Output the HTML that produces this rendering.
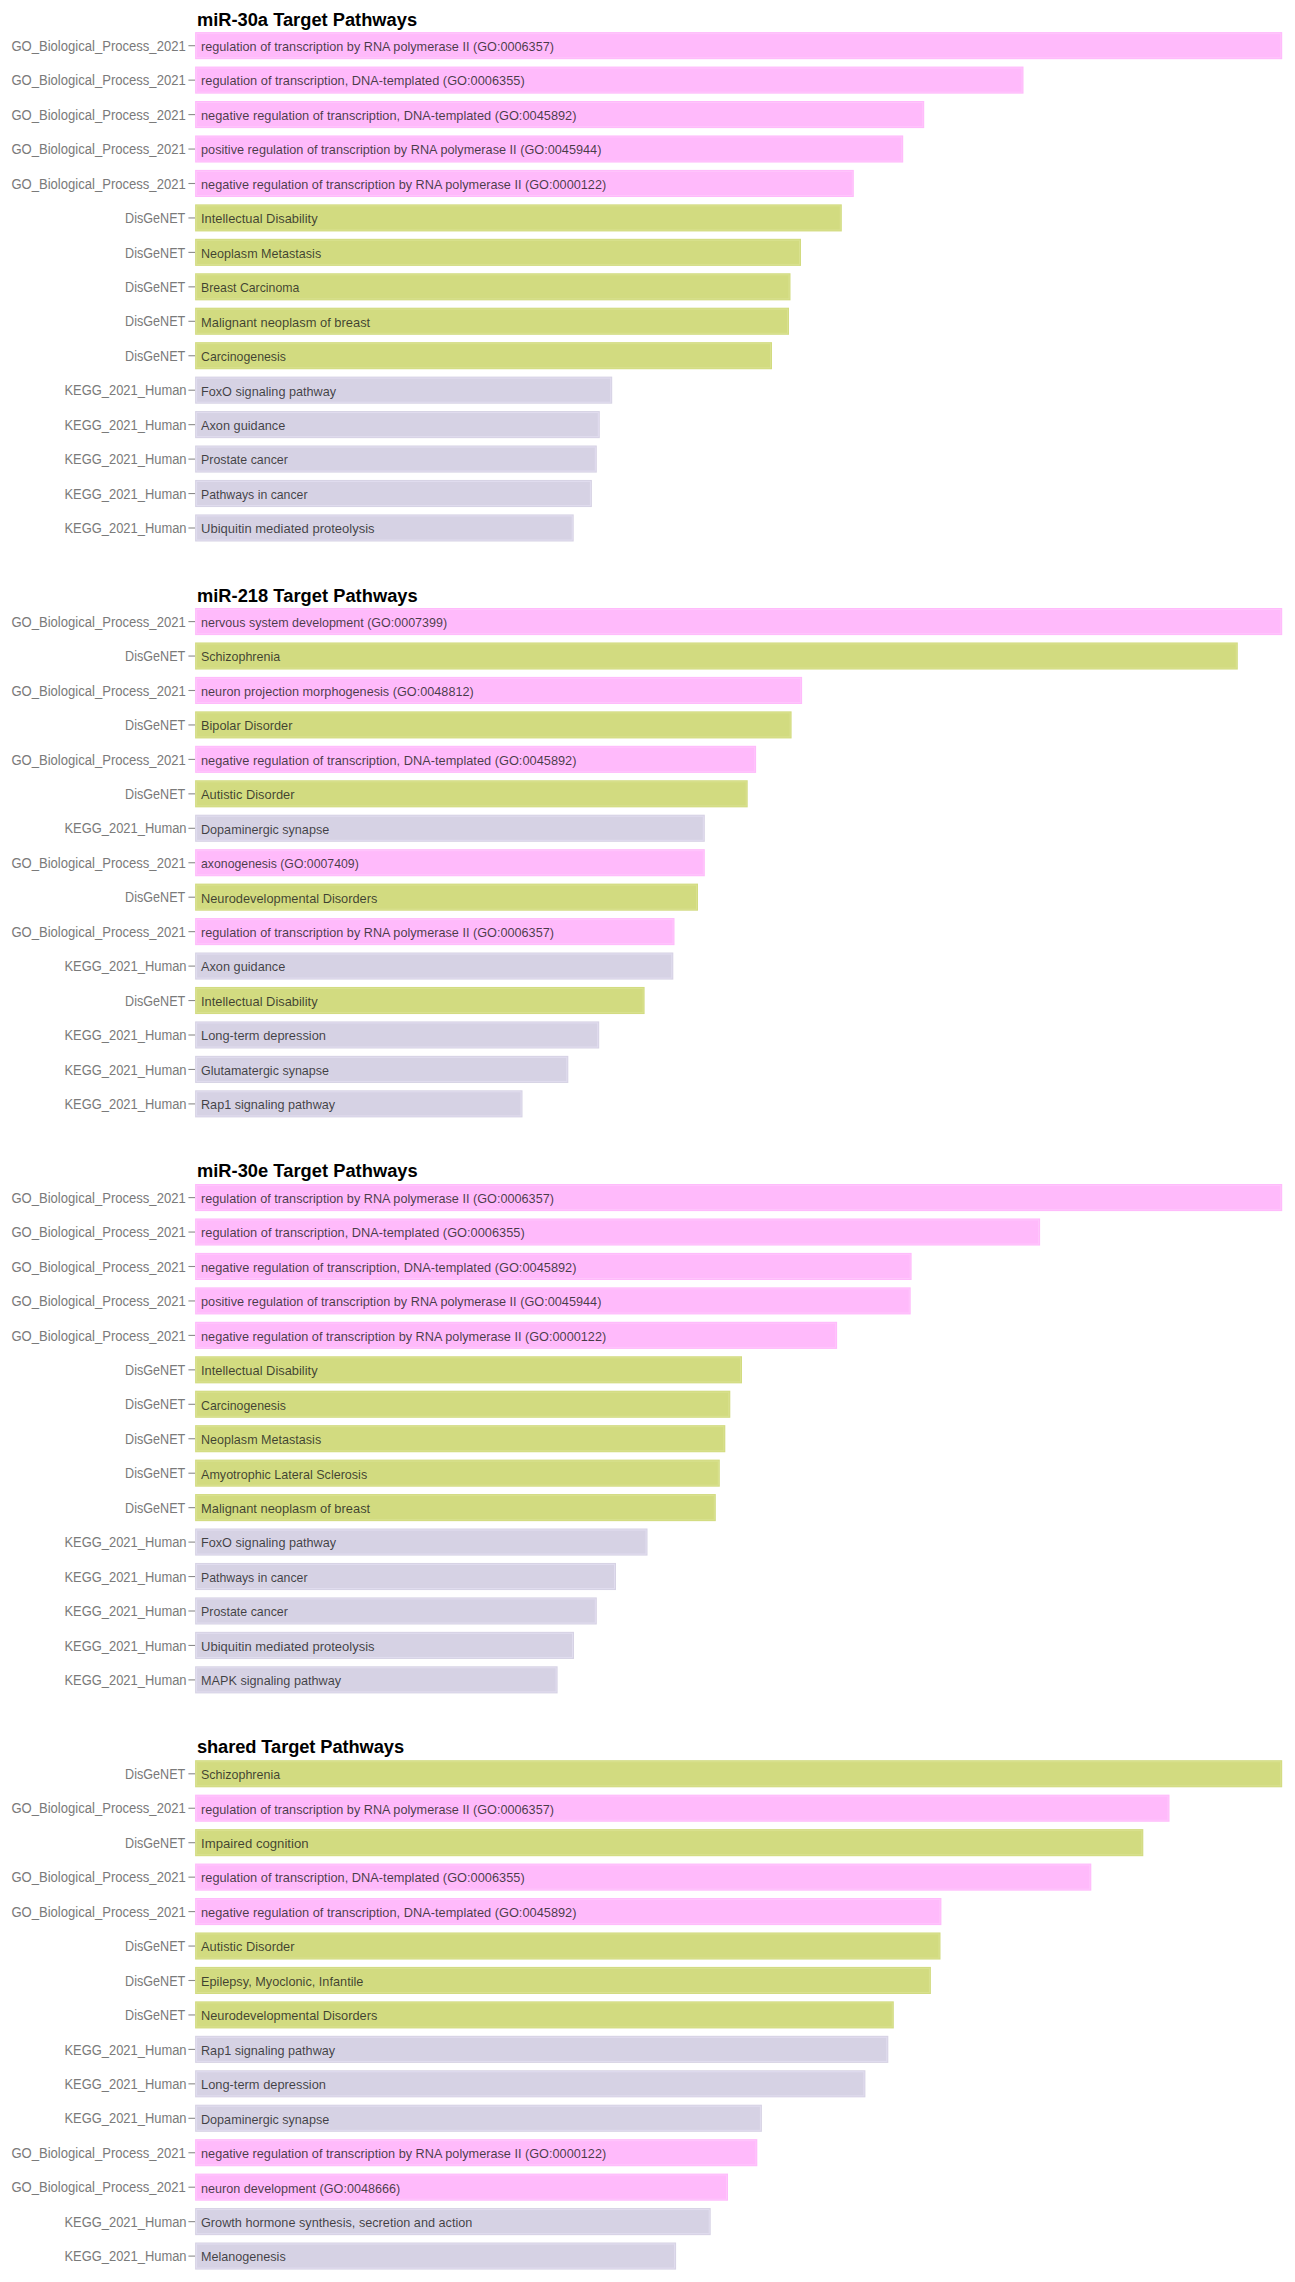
<!DOCTYPE html>
<html lang="en"><head><meta charset="utf-8"><title>Target Pathways</title>
<style>
html,body{margin:0;padding:0;background:#fff}
svg{display:block;font-family:"Liberation Sans",sans-serif}
.t{font-weight:bold;font-size:18.3px;fill:#000}
.y{font-size:14px;fill:#7a7a7a}
.x{font-size:12.72px;fill:#1e1e1e;fill-opacity:.82}
.g{fill:#ffbafb}.d{fill:#d2db80}.k{fill:#d6d2e4}
.gi{stroke:#ffc6fc}.di{stroke:#d9e18f}.ki{stroke:#e1ddef}
.gi,.di,.ki{fill:none;stroke-width:1}
.tk{stroke:#8a8a8a;stroke-width:1.1}
</style></head>
<body>
<svg width="1295" height="2282" viewBox="0 0 1295 2282">
<rect x="0" y="0" width="1295" height="2282" fill="#fff"/>
<text class="t" x="196.9" y="25.8" textLength="220.2" lengthAdjust="spacing">miR-30a Target Pathways</text>
<g>
<text class="y" x="11.4" y="50.80" textLength="174.3" lengthAdjust="spacingAndGlyphs">GO_Biological_Process_2021</text>
<line class="tk" x1="188.4" x2="195.1" y1="45.70" y2="45.70"/>
<rect class="g" x="195.1" y="32.10" width="1087.1" height="27.1"/>
<rect class="gi" x="196.6" y="33.60" width="1084.1" height="24.1"/>
<text class="x" x="201.0" y="51.00" textLength="353.0" lengthAdjust="spacingAndGlyphs">regulation of transcription by RNA polymerase II (GO:0006357)</text>
</g>
<g>
<text class="y" x="11.4" y="85.25" textLength="174.3" lengthAdjust="spacingAndGlyphs">GO_Biological_Process_2021</text>
<line class="tk" x1="188.4" x2="195.1" y1="80.15" y2="80.15"/>
<rect class="g" x="195.1" y="66.55" width="828.4" height="27.1"/>
<rect class="gi" x="196.6" y="68.05" width="825.4" height="24.1"/>
<text class="x" x="201.0" y="85.45" textLength="323.7" lengthAdjust="spacingAndGlyphs">regulation of transcription, DNA-templated (GO:0006355)</text>
</g>
<g>
<text class="y" x="11.4" y="119.70" textLength="174.3" lengthAdjust="spacingAndGlyphs">GO_Biological_Process_2021</text>
<line class="tk" x1="188.4" x2="195.1" y1="114.60" y2="114.60"/>
<rect class="g" x="195.1" y="101.00" width="729.1" height="27.1"/>
<rect class="gi" x="196.6" y="102.50" width="726.1" height="24.1"/>
<text class="x" x="201.0" y="119.90" textLength="375.5" lengthAdjust="spacingAndGlyphs">negative regulation of transcription, DNA-templated (GO:0045892)</text>
</g>
<g>
<text class="y" x="11.4" y="154.15" textLength="174.3" lengthAdjust="spacingAndGlyphs">GO_Biological_Process_2021</text>
<line class="tk" x1="188.4" x2="195.1" y1="149.05" y2="149.05"/>
<rect class="g" x="195.1" y="135.45" width="708.1" height="27.1"/>
<rect class="gi" x="196.6" y="136.95" width="705.1" height="24.1"/>
<text class="x" x="201.0" y="154.35" textLength="400.4" lengthAdjust="spacingAndGlyphs">positive regulation of transcription by RNA polymerase II (GO:0045944)</text>
</g>
<g>
<text class="y" x="11.4" y="188.60" textLength="174.3" lengthAdjust="spacingAndGlyphs">GO_Biological_Process_2021</text>
<line class="tk" x1="188.4" x2="195.1" y1="183.50" y2="183.50"/>
<rect class="g" x="195.1" y="169.90" width="658.7" height="27.1"/>
<rect class="gi" x="196.6" y="171.40" width="655.7" height="24.1"/>
<text class="x" x="201.0" y="188.80" textLength="405.2" lengthAdjust="spacingAndGlyphs">negative regulation of transcription by RNA polymerase II (GO:0000122)</text>
</g>
<g>
<text class="y" x="125.1" y="223.05" textLength="60.2" lengthAdjust="spacingAndGlyphs">DisGeNET</text>
<line class="tk" x1="188.4" x2="195.1" y1="217.95" y2="217.95"/>
<rect class="d" x="195.1" y="204.35" width="646.7" height="27.1"/>
<rect class="di" x="196.6" y="205.85" width="643.7" height="24.1"/>
<text class="x" x="201.0" y="223.25" textLength="116.6" lengthAdjust="spacingAndGlyphs">Intellectual Disability</text>
</g>
<g>
<text class="y" x="125.1" y="257.50" textLength="60.2" lengthAdjust="spacingAndGlyphs">DisGeNET</text>
<line class="tk" x1="188.4" x2="195.1" y1="252.40" y2="252.40"/>
<rect class="d" x="195.1" y="238.80" width="605.9" height="27.1"/>
<rect class="di" x="196.6" y="240.30" width="602.9" height="24.1"/>
<text class="x" x="201.0" y="257.70" textLength="120.2" lengthAdjust="spacingAndGlyphs">Neoplasm Metastasis</text>
</g>
<g>
<text class="y" x="125.1" y="291.95" textLength="60.2" lengthAdjust="spacingAndGlyphs">DisGeNET</text>
<line class="tk" x1="188.4" x2="195.1" y1="286.85" y2="286.85"/>
<rect class="d" x="195.1" y="273.25" width="595.4" height="27.1"/>
<rect class="di" x="196.6" y="274.75" width="592.4" height="24.1"/>
<text class="x" x="201.0" y="292.15" textLength="98.3" lengthAdjust="spacingAndGlyphs">Breast Carcinoma</text>
</g>
<g>
<text class="y" x="125.1" y="326.40" textLength="60.2" lengthAdjust="spacingAndGlyphs">DisGeNET</text>
<line class="tk" x1="188.4" x2="195.1" y1="321.30" y2="321.30"/>
<rect class="d" x="195.1" y="307.70" width="593.9" height="27.1"/>
<rect class="di" x="196.6" y="309.20" width="590.9" height="24.1"/>
<text class="x" x="201.0" y="326.60" textLength="169.2" lengthAdjust="spacingAndGlyphs">Malignant neoplasm of breast</text>
</g>
<g>
<text class="y" x="125.1" y="360.85" textLength="60.2" lengthAdjust="spacingAndGlyphs">DisGeNET</text>
<line class="tk" x1="188.4" x2="195.1" y1="355.75" y2="355.75"/>
<rect class="d" x="195.1" y="342.15" width="576.9" height="27.1"/>
<rect class="di" x="196.6" y="343.65" width="573.9" height="24.1"/>
<text class="x" x="201.0" y="361.05" textLength="84.9" lengthAdjust="spacingAndGlyphs">Carcinogenesis</text>
</g>
<g>
<text class="y" x="64.5" y="395.30" textLength="122.0" lengthAdjust="spacingAndGlyphs">KEGG_2021_Human</text>
<line class="tk" x1="188.4" x2="195.1" y1="390.20" y2="390.20"/>
<rect class="k" x="195.1" y="376.60" width="417.1" height="27.1"/>
<rect class="ki" x="196.6" y="378.10" width="414.1" height="24.1"/>
<text class="x" x="201.0" y="395.50" textLength="135.1" lengthAdjust="spacingAndGlyphs">FoxO signaling pathway</text>
</g>
<g>
<text class="y" x="64.5" y="429.75" textLength="122.0" lengthAdjust="spacingAndGlyphs">KEGG_2021_Human</text>
<line class="tk" x1="188.4" x2="195.1" y1="424.65" y2="424.65"/>
<rect class="k" x="195.1" y="411.05" width="404.7" height="27.1"/>
<rect class="ki" x="196.6" y="412.55" width="401.7" height="24.1"/>
<text class="x" x="201.0" y="429.95" textLength="84.3" lengthAdjust="spacingAndGlyphs">Axon guidance</text>
</g>
<g>
<text class="y" x="64.5" y="464.20" textLength="122.0" lengthAdjust="spacingAndGlyphs">KEGG_2021_Human</text>
<line class="tk" x1="188.4" x2="195.1" y1="459.10" y2="459.10"/>
<rect class="k" x="195.1" y="445.50" width="401.7" height="27.1"/>
<rect class="ki" x="196.6" y="447.00" width="398.7" height="24.1"/>
<text class="x" x="201.0" y="464.40" textLength="86.9" lengthAdjust="spacingAndGlyphs">Prostate cancer</text>
</g>
<g>
<text class="y" x="64.5" y="498.65" textLength="122.0" lengthAdjust="spacingAndGlyphs">KEGG_2021_Human</text>
<line class="tk" x1="188.4" x2="195.1" y1="493.55" y2="493.55"/>
<rect class="k" x="195.1" y="479.95" width="396.8" height="27.1"/>
<rect class="ki" x="196.6" y="481.45" width="393.8" height="24.1"/>
<text class="x" x="201.0" y="498.85" textLength="106.5" lengthAdjust="spacingAndGlyphs">Pathways in cancer</text>
</g>
<g>
<text class="y" x="64.5" y="533.10" textLength="122.0" lengthAdjust="spacingAndGlyphs">KEGG_2021_Human</text>
<line class="tk" x1="188.4" x2="195.1" y1="528.00" y2="528.00"/>
<rect class="k" x="195.1" y="514.40" width="378.6" height="27.1"/>
<rect class="ki" x="196.6" y="515.90" width="375.6" height="24.1"/>
<text class="x" x="201.0" y="533.30" textLength="173.6" lengthAdjust="spacingAndGlyphs">Ubiquitin mediated proteolysis</text>
</g>
<text class="t" x="196.9" y="601.5" textLength="220.8" lengthAdjust="spacing">miR-218 Target Pathways</text>
<g>
<text class="y" x="11.4" y="626.70" textLength="174.3" lengthAdjust="spacingAndGlyphs">GO_Biological_Process_2021</text>
<line class="tk" x1="188.4" x2="195.1" y1="621.60" y2="621.60"/>
<rect class="g" x="195.1" y="608.00" width="1087.1" height="27.1"/>
<rect class="gi" x="196.6" y="609.50" width="1084.1" height="24.1"/>
<text class="x" x="201.0" y="626.90" textLength="246.1" lengthAdjust="spacingAndGlyphs">nervous system development (GO:0007399)</text>
</g>
<g>
<text class="y" x="125.1" y="661.15" textLength="60.2" lengthAdjust="spacingAndGlyphs">DisGeNET</text>
<line class="tk" x1="188.4" x2="195.1" y1="656.05" y2="656.05"/>
<rect class="d" x="195.1" y="642.45" width="1042.7" height="27.1"/>
<rect class="di" x="196.6" y="643.95" width="1039.7" height="24.1"/>
<text class="x" x="201.0" y="661.35" textLength="79.1" lengthAdjust="spacingAndGlyphs">Schizophrenia</text>
</g>
<g>
<text class="y" x="11.4" y="695.60" textLength="174.3" lengthAdjust="spacingAndGlyphs">GO_Biological_Process_2021</text>
<line class="tk" x1="188.4" x2="195.1" y1="690.50" y2="690.50"/>
<rect class="g" x="195.1" y="676.90" width="607.0" height="27.1"/>
<rect class="gi" x="196.6" y="678.40" width="604.0" height="24.1"/>
<text class="x" x="201.0" y="695.80" textLength="272.8" lengthAdjust="spacingAndGlyphs">neuron projection morphogenesis (GO:0048812)</text>
</g>
<g>
<text class="y" x="125.1" y="730.05" textLength="60.2" lengthAdjust="spacingAndGlyphs">DisGeNET</text>
<line class="tk" x1="188.4" x2="195.1" y1="724.95" y2="724.95"/>
<rect class="d" x="195.1" y="711.35" width="596.5" height="27.1"/>
<rect class="di" x="196.6" y="712.85" width="593.5" height="24.1"/>
<text class="x" x="201.0" y="730.25" textLength="91.4" lengthAdjust="spacingAndGlyphs">Bipolar Disorder</text>
</g>
<g>
<text class="y" x="11.4" y="764.50" textLength="174.3" lengthAdjust="spacingAndGlyphs">GO_Biological_Process_2021</text>
<line class="tk" x1="188.4" x2="195.1" y1="759.40" y2="759.40"/>
<rect class="g" x="195.1" y="745.80" width="561.0" height="27.1"/>
<rect class="gi" x="196.6" y="747.30" width="558.0" height="24.1"/>
<text class="x" x="201.0" y="764.70" textLength="375.5" lengthAdjust="spacingAndGlyphs">negative regulation of transcription, DNA-templated (GO:0045892)</text>
</g>
<g>
<text class="y" x="125.1" y="798.95" textLength="60.2" lengthAdjust="spacingAndGlyphs">DisGeNET</text>
<line class="tk" x1="188.4" x2="195.1" y1="793.85" y2="793.85"/>
<rect class="d" x="195.1" y="780.25" width="552.6" height="27.1"/>
<rect class="di" x="196.6" y="781.75" width="549.6" height="24.1"/>
<text class="x" x="201.0" y="799.15" textLength="93.5" lengthAdjust="spacingAndGlyphs">Autistic Disorder</text>
</g>
<g>
<text class="y" x="64.5" y="833.40" textLength="122.0" lengthAdjust="spacingAndGlyphs">KEGG_2021_Human</text>
<line class="tk" x1="188.4" x2="195.1" y1="828.30" y2="828.30"/>
<rect class="k" x="195.1" y="814.70" width="509.7" height="27.1"/>
<rect class="ki" x="196.6" y="816.20" width="506.7" height="24.1"/>
<text class="x" x="201.0" y="833.60" textLength="128.2" lengthAdjust="spacingAndGlyphs">Dopaminergic synapse</text>
</g>
<g>
<text class="y" x="11.4" y="867.85" textLength="174.3" lengthAdjust="spacingAndGlyphs">GO_Biological_Process_2021</text>
<line class="tk" x1="188.4" x2="195.1" y1="862.75" y2="862.75"/>
<rect class="g" x="195.1" y="849.15" width="509.7" height="27.1"/>
<rect class="gi" x="196.6" y="850.65" width="506.7" height="24.1"/>
<text class="x" x="201.0" y="868.05" textLength="157.8" lengthAdjust="spacingAndGlyphs">axonogenesis (GO:0007409)</text>
</g>
<g>
<text class="y" x="125.1" y="902.30" textLength="60.2" lengthAdjust="spacingAndGlyphs">DisGeNET</text>
<line class="tk" x1="188.4" x2="195.1" y1="897.20" y2="897.20"/>
<rect class="d" x="195.1" y="883.60" width="502.9" height="27.1"/>
<rect class="di" x="196.6" y="885.10" width="499.9" height="24.1"/>
<text class="x" x="201.0" y="902.50" textLength="176.4" lengthAdjust="spacingAndGlyphs">Neurodevelopmental Disorders</text>
</g>
<g>
<text class="y" x="11.4" y="936.75" textLength="174.3" lengthAdjust="spacingAndGlyphs">GO_Biological_Process_2021</text>
<line class="tk" x1="188.4" x2="195.1" y1="931.65" y2="931.65"/>
<rect class="g" x="195.1" y="918.05" width="479.4" height="27.1"/>
<rect class="gi" x="196.6" y="919.55" width="476.4" height="24.1"/>
<text class="x" x="201.0" y="936.95" textLength="353.0" lengthAdjust="spacingAndGlyphs">regulation of transcription by RNA polymerase II (GO:0006357)</text>
</g>
<g>
<text class="y" x="64.5" y="971.20" textLength="122.0" lengthAdjust="spacingAndGlyphs">KEGG_2021_Human</text>
<line class="tk" x1="188.4" x2="195.1" y1="966.10" y2="966.10"/>
<rect class="k" x="195.1" y="952.50" width="478.2" height="27.1"/>
<rect class="ki" x="196.6" y="954.00" width="475.2" height="24.1"/>
<text class="x" x="201.0" y="971.40" textLength="84.3" lengthAdjust="spacingAndGlyphs">Axon guidance</text>
</g>
<g>
<text class="y" x="125.1" y="1005.65" textLength="60.2" lengthAdjust="spacingAndGlyphs">DisGeNET</text>
<line class="tk" x1="188.4" x2="195.1" y1="1000.55" y2="1000.55"/>
<rect class="d" x="195.1" y="986.95" width="449.5" height="27.1"/>
<rect class="di" x="196.6" y="988.45" width="446.5" height="24.1"/>
<text class="x" x="201.0" y="1005.85" textLength="116.6" lengthAdjust="spacingAndGlyphs">Intellectual Disability</text>
</g>
<g>
<text class="y" x="64.5" y="1040.10" textLength="122.0" lengthAdjust="spacingAndGlyphs">KEGG_2021_Human</text>
<line class="tk" x1="188.4" x2="195.1" y1="1035.00" y2="1035.00"/>
<rect class="k" x="195.1" y="1021.40" width="404.1" height="27.1"/>
<rect class="ki" x="196.6" y="1022.90" width="401.1" height="24.1"/>
<text class="x" x="201.0" y="1040.30" textLength="125.0" lengthAdjust="spacingAndGlyphs">Long-term depression</text>
</g>
<g>
<text class="y" x="64.5" y="1074.55" textLength="122.0" lengthAdjust="spacingAndGlyphs">KEGG_2021_Human</text>
<line class="tk" x1="188.4" x2="195.1" y1="1069.45" y2="1069.45"/>
<rect class="k" x="195.1" y="1055.85" width="373.2" height="27.1"/>
<rect class="ki" x="196.6" y="1057.35" width="370.2" height="24.1"/>
<text class="x" x="201.0" y="1074.75" textLength="128.0" lengthAdjust="spacingAndGlyphs">Glutamatergic synapse</text>
</g>
<g>
<text class="y" x="64.5" y="1109.00" textLength="122.0" lengthAdjust="spacingAndGlyphs">KEGG_2021_Human</text>
<line class="tk" x1="188.4" x2="195.1" y1="1103.90" y2="1103.90"/>
<rect class="k" x="195.1" y="1090.30" width="327.4" height="27.1"/>
<rect class="ki" x="196.6" y="1091.80" width="324.4" height="24.1"/>
<text class="x" x="201.0" y="1109.20" textLength="134.1" lengthAdjust="spacingAndGlyphs">Rap1 signaling pathway</text>
</g>
<text class="t" x="196.9" y="1177.4" textLength="220.8" lengthAdjust="spacing">miR-30e Target Pathways</text>
<g>
<text class="y" x="11.4" y="1202.70" textLength="174.3" lengthAdjust="spacingAndGlyphs">GO_Biological_Process_2021</text>
<line class="tk" x1="188.4" x2="195.1" y1="1197.60" y2="1197.60"/>
<rect class="g" x="195.1" y="1184.00" width="1087.1" height="27.1"/>
<rect class="gi" x="196.6" y="1185.50" width="1084.1" height="24.1"/>
<text class="x" x="201.0" y="1202.90" textLength="353.0" lengthAdjust="spacingAndGlyphs">regulation of transcription by RNA polymerase II (GO:0006357)</text>
</g>
<g>
<text class="y" x="11.4" y="1237.15" textLength="174.3" lengthAdjust="spacingAndGlyphs">GO_Biological_Process_2021</text>
<line class="tk" x1="188.4" x2="195.1" y1="1232.05" y2="1232.05"/>
<rect class="g" x="195.1" y="1218.45" width="845.0" height="27.1"/>
<rect class="gi" x="196.6" y="1219.95" width="842.0" height="24.1"/>
<text class="x" x="201.0" y="1237.35" textLength="323.7" lengthAdjust="spacingAndGlyphs">regulation of transcription, DNA-templated (GO:0006355)</text>
</g>
<g>
<text class="y" x="11.4" y="1271.60" textLength="174.3" lengthAdjust="spacingAndGlyphs">GO_Biological_Process_2021</text>
<line class="tk" x1="188.4" x2="195.1" y1="1266.50" y2="1266.50"/>
<rect class="g" x="195.1" y="1252.90" width="716.5" height="27.1"/>
<rect class="gi" x="196.6" y="1254.40" width="713.5" height="24.1"/>
<text class="x" x="201.0" y="1271.80" textLength="375.5" lengthAdjust="spacingAndGlyphs">negative regulation of transcription, DNA-templated (GO:0045892)</text>
</g>
<g>
<text class="y" x="11.4" y="1306.05" textLength="174.3" lengthAdjust="spacingAndGlyphs">GO_Biological_Process_2021</text>
<line class="tk" x1="188.4" x2="195.1" y1="1300.95" y2="1300.95"/>
<rect class="g" x="195.1" y="1287.35" width="715.6" height="27.1"/>
<rect class="gi" x="196.6" y="1288.85" width="712.6" height="24.1"/>
<text class="x" x="201.0" y="1306.25" textLength="400.4" lengthAdjust="spacingAndGlyphs">positive regulation of transcription by RNA polymerase II (GO:0045944)</text>
</g>
<g>
<text class="y" x="11.4" y="1340.50" textLength="174.3" lengthAdjust="spacingAndGlyphs">GO_Biological_Process_2021</text>
<line class="tk" x1="188.4" x2="195.1" y1="1335.40" y2="1335.40"/>
<rect class="g" x="195.1" y="1321.80" width="642.0" height="27.1"/>
<rect class="gi" x="196.6" y="1323.30" width="639.0" height="24.1"/>
<text class="x" x="201.0" y="1340.70" textLength="405.2" lengthAdjust="spacingAndGlyphs">negative regulation of transcription by RNA polymerase II (GO:0000122)</text>
</g>
<g>
<text class="y" x="125.1" y="1374.95" textLength="60.2" lengthAdjust="spacingAndGlyphs">DisGeNET</text>
<line class="tk" x1="188.4" x2="195.1" y1="1369.85" y2="1369.85"/>
<rect class="d" x="195.1" y="1356.25" width="546.9" height="27.1"/>
<rect class="di" x="196.6" y="1357.75" width="543.9" height="24.1"/>
<text class="x" x="201.0" y="1375.15" textLength="116.6" lengthAdjust="spacingAndGlyphs">Intellectual Disability</text>
</g>
<g>
<text class="y" x="125.1" y="1409.40" textLength="60.2" lengthAdjust="spacingAndGlyphs">DisGeNET</text>
<line class="tk" x1="188.4" x2="195.1" y1="1404.30" y2="1404.30"/>
<rect class="d" x="195.1" y="1390.70" width="535.2" height="27.1"/>
<rect class="di" x="196.6" y="1392.20" width="532.2" height="24.1"/>
<text class="x" x="201.0" y="1409.60" textLength="84.9" lengthAdjust="spacingAndGlyphs">Carcinogenesis</text>
</g>
<g>
<text class="y" x="125.1" y="1443.85" textLength="60.2" lengthAdjust="spacingAndGlyphs">DisGeNET</text>
<line class="tk" x1="188.4" x2="195.1" y1="1438.75" y2="1438.75"/>
<rect class="d" x="195.1" y="1425.15" width="530.2" height="27.1"/>
<rect class="di" x="196.6" y="1426.65" width="527.2" height="24.1"/>
<text class="x" x="201.0" y="1444.05" textLength="120.2" lengthAdjust="spacingAndGlyphs">Neoplasm Metastasis</text>
</g>
<g>
<text class="y" x="125.1" y="1478.30" textLength="60.2" lengthAdjust="spacingAndGlyphs">DisGeNET</text>
<line class="tk" x1="188.4" x2="195.1" y1="1473.20" y2="1473.20"/>
<rect class="d" x="195.1" y="1459.60" width="524.7" height="27.1"/>
<rect class="di" x="196.6" y="1461.10" width="521.7" height="24.1"/>
<text class="x" x="201.0" y="1478.50" textLength="166.2" lengthAdjust="spacingAndGlyphs">Amyotrophic Lateral Sclerosis</text>
</g>
<g>
<text class="y" x="125.1" y="1512.75" textLength="60.2" lengthAdjust="spacingAndGlyphs">DisGeNET</text>
<line class="tk" x1="188.4" x2="195.1" y1="1507.65" y2="1507.65"/>
<rect class="d" x="195.1" y="1494.05" width="520.7" height="27.1"/>
<rect class="di" x="196.6" y="1495.55" width="517.7" height="24.1"/>
<text class="x" x="201.0" y="1512.95" textLength="169.2" lengthAdjust="spacingAndGlyphs">Malignant neoplasm of breast</text>
</g>
<g>
<text class="y" x="64.5" y="1547.20" textLength="122.0" lengthAdjust="spacingAndGlyphs">KEGG_2021_Human</text>
<line class="tk" x1="188.4" x2="195.1" y1="1542.10" y2="1542.10"/>
<rect class="k" x="195.1" y="1528.50" width="452.4" height="27.1"/>
<rect class="ki" x="196.6" y="1530.00" width="449.4" height="24.1"/>
<text class="x" x="201.0" y="1547.40" textLength="135.1" lengthAdjust="spacingAndGlyphs">FoxO signaling pathway</text>
</g>
<g>
<text class="y" x="64.5" y="1581.65" textLength="122.0" lengthAdjust="spacingAndGlyphs">KEGG_2021_Human</text>
<line class="tk" x1="188.4" x2="195.1" y1="1576.55" y2="1576.55"/>
<rect class="k" x="195.1" y="1562.95" width="420.9" height="27.1"/>
<rect class="ki" x="196.6" y="1564.45" width="417.9" height="24.1"/>
<text class="x" x="201.0" y="1581.85" textLength="106.5" lengthAdjust="spacingAndGlyphs">Pathways in cancer</text>
</g>
<g>
<text class="y" x="64.5" y="1616.10" textLength="122.0" lengthAdjust="spacingAndGlyphs">KEGG_2021_Human</text>
<line class="tk" x1="188.4" x2="195.1" y1="1611.00" y2="1611.00"/>
<rect class="k" x="195.1" y="1597.40" width="401.7" height="27.1"/>
<rect class="ki" x="196.6" y="1598.90" width="398.7" height="24.1"/>
<text class="x" x="201.0" y="1616.30" textLength="86.9" lengthAdjust="spacingAndGlyphs">Prostate cancer</text>
</g>
<g>
<text class="y" x="64.5" y="1650.55" textLength="122.0" lengthAdjust="spacingAndGlyphs">KEGG_2021_Human</text>
<line class="tk" x1="188.4" x2="195.1" y1="1645.45" y2="1645.45"/>
<rect class="k" x="195.1" y="1631.85" width="378.9" height="27.1"/>
<rect class="ki" x="196.6" y="1633.35" width="375.9" height="24.1"/>
<text class="x" x="201.0" y="1650.75" textLength="173.6" lengthAdjust="spacingAndGlyphs">Ubiquitin mediated proteolysis</text>
</g>
<g>
<text class="y" x="64.5" y="1685.00" textLength="122.0" lengthAdjust="spacingAndGlyphs">KEGG_2021_Human</text>
<line class="tk" x1="188.4" x2="195.1" y1="1679.90" y2="1679.90"/>
<rect class="k" x="195.1" y="1666.30" width="362.5" height="27.1"/>
<rect class="ki" x="196.6" y="1667.80" width="359.5" height="24.1"/>
<text class="x" x="201.0" y="1685.20" textLength="140.1" lengthAdjust="spacingAndGlyphs">MAPK signaling pathway</text>
</g>
<text class="t" x="196.9" y="1752.9" textLength="207.2" lengthAdjust="spacing">shared Target Pathways</text>
<g>
<text class="y" x="125.1" y="1778.90" textLength="60.2" lengthAdjust="spacingAndGlyphs">DisGeNET</text>
<line class="tk" x1="188.4" x2="195.1" y1="1773.80" y2="1773.80"/>
<rect class="d" x="195.1" y="1760.20" width="1087.1" height="27.1"/>
<rect class="di" x="196.6" y="1761.70" width="1084.1" height="24.1"/>
<text class="x" x="201.0" y="1779.10" textLength="79.1" lengthAdjust="spacingAndGlyphs">Schizophrenia</text>
</g>
<g>
<text class="y" x="11.4" y="1813.35" textLength="174.3" lengthAdjust="spacingAndGlyphs">GO_Biological_Process_2021</text>
<line class="tk" x1="188.4" x2="195.1" y1="1808.25" y2="1808.25"/>
<rect class="g" x="195.1" y="1794.65" width="974.4" height="27.1"/>
<rect class="gi" x="196.6" y="1796.15" width="971.4" height="24.1"/>
<text class="x" x="201.0" y="1813.55" textLength="353.0" lengthAdjust="spacingAndGlyphs">regulation of transcription by RNA polymerase II (GO:0006357)</text>
</g>
<g>
<text class="y" x="125.1" y="1847.80" textLength="60.2" lengthAdjust="spacingAndGlyphs">DisGeNET</text>
<line class="tk" x1="188.4" x2="195.1" y1="1842.70" y2="1842.70"/>
<rect class="d" x="195.1" y="1829.10" width="948.2" height="27.1"/>
<rect class="di" x="196.6" y="1830.60" width="945.2" height="24.1"/>
<text class="x" x="201.0" y="1848.00" textLength="107.6" lengthAdjust="spacingAndGlyphs">Impaired cognition</text>
</g>
<g>
<text class="y" x="11.4" y="1882.25" textLength="174.3" lengthAdjust="spacingAndGlyphs">GO_Biological_Process_2021</text>
<line class="tk" x1="188.4" x2="195.1" y1="1877.15" y2="1877.15"/>
<rect class="g" x="195.1" y="1863.55" width="896.2" height="27.1"/>
<rect class="gi" x="196.6" y="1865.05" width="893.2" height="24.1"/>
<text class="x" x="201.0" y="1882.45" textLength="323.7" lengthAdjust="spacingAndGlyphs">regulation of transcription, DNA-templated (GO:0006355)</text>
</g>
<g>
<text class="y" x="11.4" y="1916.70" textLength="174.3" lengthAdjust="spacingAndGlyphs">GO_Biological_Process_2021</text>
<line class="tk" x1="188.4" x2="195.1" y1="1911.60" y2="1911.60"/>
<rect class="g" x="195.1" y="1898.00" width="746.3" height="27.1"/>
<rect class="gi" x="196.6" y="1899.50" width="743.3" height="24.1"/>
<text class="x" x="201.0" y="1916.90" textLength="375.5" lengthAdjust="spacingAndGlyphs">negative regulation of transcription, DNA-templated (GO:0045892)</text>
</g>
<g>
<text class="y" x="125.1" y="1951.15" textLength="60.2" lengthAdjust="spacingAndGlyphs">DisGeNET</text>
<line class="tk" x1="188.4" x2="195.1" y1="1946.05" y2="1946.05"/>
<rect class="d" x="195.1" y="1932.45" width="745.4" height="27.1"/>
<rect class="di" x="196.6" y="1933.95" width="742.4" height="24.1"/>
<text class="x" x="201.0" y="1951.35" textLength="93.5" lengthAdjust="spacingAndGlyphs">Autistic Disorder</text>
</g>
<g>
<text class="y" x="125.1" y="1985.60" textLength="60.2" lengthAdjust="spacingAndGlyphs">DisGeNET</text>
<line class="tk" x1="188.4" x2="195.1" y1="1980.50" y2="1980.50"/>
<rect class="d" x="195.1" y="1966.90" width="735.8" height="27.1"/>
<rect class="di" x="196.6" y="1968.40" width="732.8" height="24.1"/>
<text class="x" x="201.0" y="1985.80" textLength="162.4" lengthAdjust="spacingAndGlyphs">Epilepsy, Myoclonic, Infantile</text>
</g>
<g>
<text class="y" x="125.1" y="2020.05" textLength="60.2" lengthAdjust="spacingAndGlyphs">DisGeNET</text>
<line class="tk" x1="188.4" x2="195.1" y1="2014.95" y2="2014.95"/>
<rect class="d" x="195.1" y="2001.35" width="698.7" height="27.1"/>
<rect class="di" x="196.6" y="2002.85" width="695.7" height="24.1"/>
<text class="x" x="201.0" y="2020.25" textLength="176.4" lengthAdjust="spacingAndGlyphs">Neurodevelopmental Disorders</text>
</g>
<g>
<text class="y" x="64.5" y="2054.50" textLength="122.0" lengthAdjust="spacingAndGlyphs">KEGG_2021_Human</text>
<line class="tk" x1="188.4" x2="195.1" y1="2049.40" y2="2049.40"/>
<rect class="k" x="195.1" y="2035.80" width="693.2" height="27.1"/>
<rect class="ki" x="196.6" y="2037.30" width="690.2" height="24.1"/>
<text class="x" x="201.0" y="2054.70" textLength="134.1" lengthAdjust="spacingAndGlyphs">Rap1 signaling pathway</text>
</g>
<g>
<text class="y" x="64.5" y="2088.95" textLength="122.0" lengthAdjust="spacingAndGlyphs">KEGG_2021_Human</text>
<line class="tk" x1="188.4" x2="195.1" y1="2083.85" y2="2083.85"/>
<rect class="k" x="195.1" y="2070.25" width="670.3" height="27.1"/>
<rect class="ki" x="196.6" y="2071.75" width="667.3" height="24.1"/>
<text class="x" x="201.0" y="2089.15" textLength="125.0" lengthAdjust="spacingAndGlyphs">Long-term depression</text>
</g>
<g>
<text class="y" x="64.5" y="2123.40" textLength="122.0" lengthAdjust="spacingAndGlyphs">KEGG_2021_Human</text>
<line class="tk" x1="188.4" x2="195.1" y1="2118.30" y2="2118.30"/>
<rect class="k" x="195.1" y="2104.70" width="566.8" height="27.1"/>
<rect class="ki" x="196.6" y="2106.20" width="563.8" height="24.1"/>
<text class="x" x="201.0" y="2123.60" textLength="128.2" lengthAdjust="spacingAndGlyphs">Dopaminergic synapse</text>
</g>
<g>
<text class="y" x="11.4" y="2157.85" textLength="174.3" lengthAdjust="spacingAndGlyphs">GO_Biological_Process_2021</text>
<line class="tk" x1="188.4" x2="195.1" y1="2152.75" y2="2152.75"/>
<rect class="g" x="195.1" y="2139.15" width="562.2" height="27.1"/>
<rect class="gi" x="196.6" y="2140.65" width="559.2" height="24.1"/>
<text class="x" x="201.0" y="2158.05" textLength="405.2" lengthAdjust="spacingAndGlyphs">negative regulation of transcription by RNA polymerase II (GO:0000122)</text>
</g>
<g>
<text class="y" x="11.4" y="2192.30" textLength="174.3" lengthAdjust="spacingAndGlyphs">GO_Biological_Process_2021</text>
<line class="tk" x1="188.4" x2="195.1" y1="2187.20" y2="2187.20"/>
<rect class="g" x="195.1" y="2173.60" width="532.9" height="27.1"/>
<rect class="gi" x="196.6" y="2175.10" width="529.9" height="24.1"/>
<text class="x" x="201.0" y="2192.50" textLength="199.3" lengthAdjust="spacingAndGlyphs">neuron development (GO:0048666)</text>
</g>
<g>
<text class="y" x="64.5" y="2226.75" textLength="122.0" lengthAdjust="spacingAndGlyphs">KEGG_2021_Human</text>
<line class="tk" x1="188.4" x2="195.1" y1="2221.65" y2="2221.65"/>
<rect class="k" x="195.1" y="2208.05" width="515.6" height="27.1"/>
<rect class="ki" x="196.6" y="2209.55" width="512.6" height="24.1"/>
<text class="x" x="201.0" y="2226.95" textLength="271.4" lengthAdjust="spacingAndGlyphs">Growth hormone synthesis, secretion and action</text>
</g>
<g>
<text class="y" x="64.5" y="2261.20" textLength="122.0" lengthAdjust="spacingAndGlyphs">KEGG_2021_Human</text>
<line class="tk" x1="188.4" x2="195.1" y1="2256.10" y2="2256.10"/>
<rect class="k" x="195.1" y="2242.50" width="481.0" height="27.1"/>
<rect class="ki" x="196.6" y="2244.00" width="478.0" height="24.1"/>
<text class="x" x="201.0" y="2261.40" textLength="84.7" lengthAdjust="spacingAndGlyphs">Melanogenesis</text>
</g>
</svg>
</body></html>
